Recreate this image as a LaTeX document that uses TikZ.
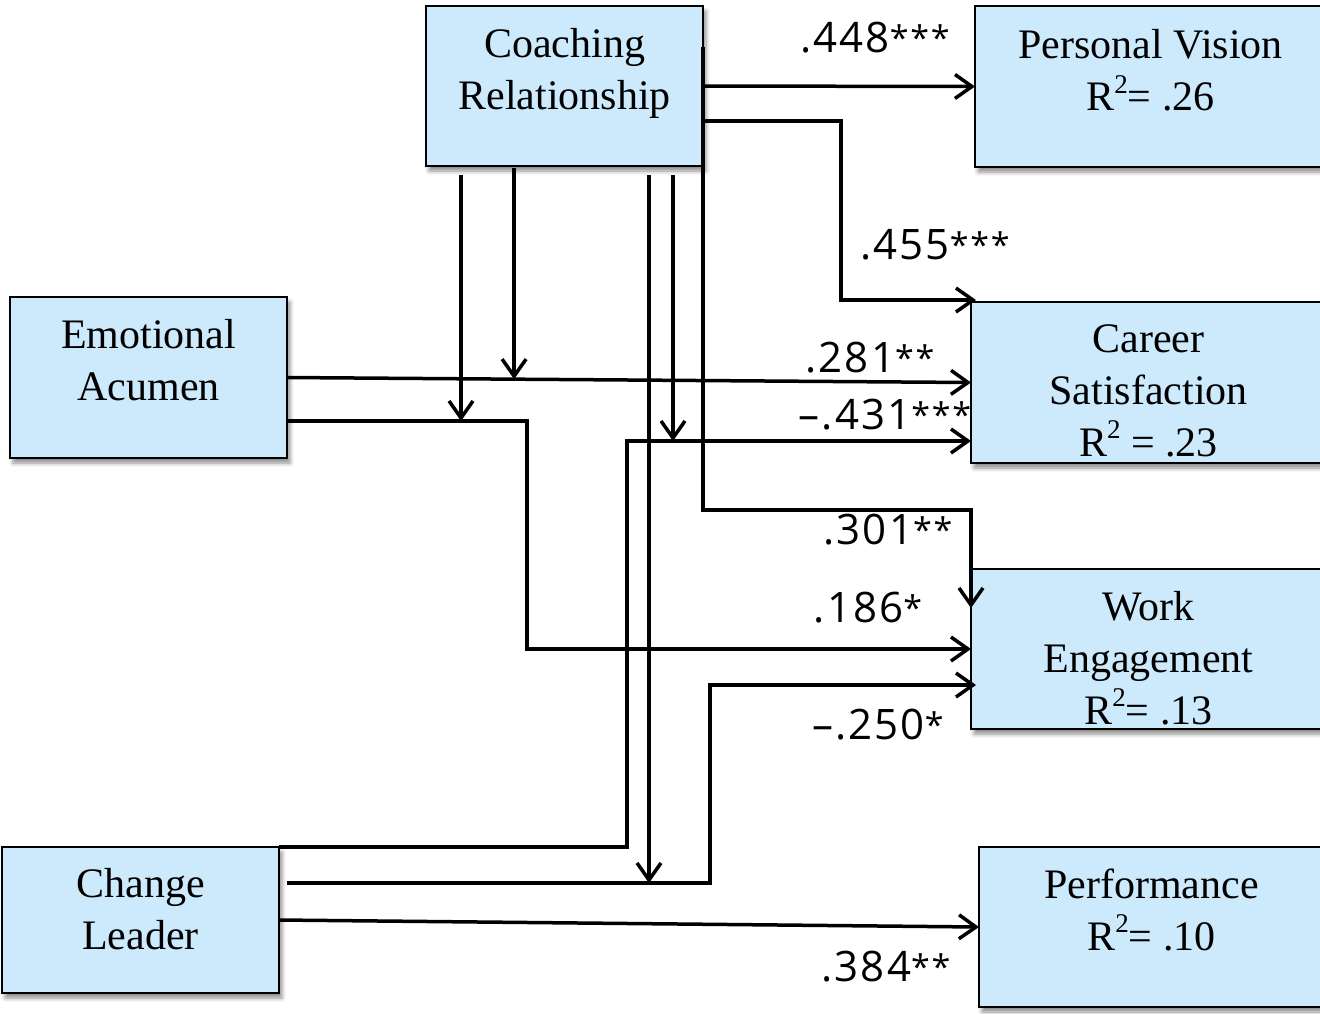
\documentclass[tikz,border=0pt]{standalone}
\usepackage{fontspec}
\setmainfont{Liberation Serif}
\newfontfamily\coeffont{Open Sans}[LetterSpace=5]
\usepackage{tikz}
\usetikzlibrary{arrows.meta}
\usetikzlibrary{calc,shadows.blur,positioning}

\definecolor{boxblue}{RGB}{204,234,252}
\newcommand{\rsq}{R\raisebox{0.42em}{\fontsize{27}{27}\selectfont 2}}
\newcommand{\stars}[1]{\raisebox{0.06em}{\fontsize{34}{34}\selectfont #1}}

\begin{document}
\begin{tikzpicture}[x=1pt, y=-1pt,
    box/.style={rectangle, draw=black, line width=1.5pt, fill=boxblue, inner sep=0pt, outer sep=0pt,
    blur shadow={shadow xshift=3pt, shadow yshift=-5pt, shadow blur radius=4pt, shadow opacity=45}},
    boxtext/.style={font=\fontsize{42}{52}\selectfont, align=center, inner sep=0pt},
    coef/.style={font=\coeffont\fontsize{42}{50}\selectfont, inner sep=0pt},
    link/.style={line width=3.5pt, -{Straight Barb[length=17pt,width=24pt]}},
    ]
    \clip (0,0) rectangle (1320,1013);

    % predictors
    \node (coach) [box, minimum width=277pt, minimum height=160pt] at (564.5,86) {};
    \node (emo) [box, minimum width=277pt, minimum height=161pt] at (148.5,377.5) {};
    \node (change) [box, minimum width=277pt, minimum height=146pt] at (140.5,920) {};

    % outcomes
    \node (vision) [box, minimum width=355pt, minimum height=161pt] at (1152.5,86.5) {};
    \node (career) [box, minimum width=359pt, minimum height=161pt] at (1150.5,382.5) {};
    \node (work) [box, minimum width=359pt, minimum height=160pt] at (1150.5,649) {};
    \node (perf) [box, minimum width=351pt, minimum height=160pt] at (1154.5,927) {};

    \node (coach-t) [boxtext] at ([yshift=13pt]coach.center) {Coaching\\Relationship};
    \node (emo-t) [boxtext] at ([yshift=17pt]emo.center) {Emotional\\Acumen};
    \node (change-t) [boxtext] at ([yshift=11pt]change.center) {Change\\Leader};
    \node (vision-t) [boxtext] at ([xshift=-2pt,yshift=16pt]vision.center) {Personal Vision\\\rsq= .26};
    \node (career-t) [boxtext] at ([xshift=-2pt,yshift=-8pt]career.center) {Career\\Satisfaction\\\rsq{} = .23};
    \node (work-t) [boxtext] at ([xshift=-2pt,yshift=-9pt]work.center) {Work\\Engagement\\\rsq= .13};
    \node (perf-t) [boxtext] at ([xshift=-3pt,yshift=17pt]perf.center) {Performance\\\rsq= .10};

    % moderation points
    \coordinate (m1) at ($(emo.east)!0.332!(career.west)$);
    \coordinate (m2) at (461,421);
    \coordinate (m3) at (673,441);
    \coordinate (m4) at (649,883);

    % paths
    \draw [link] (coach.east) -- (vision.west);
    \draw [link] ([yshift=-35pt]coach.east) -- ++(138,0) |- ([xshift=5pt,yshift=2pt]career.north west);
    \draw [link] ([yshift=-41pt]coach.north east) |- ([yshift=59pt]work.north west) -- ([yshift=-39pt]work.north west);
    \draw [link] (emo.east) -- (career.west);
    \draw [link] ([yshift=-43.5pt]emo.east) -- ++(240,0) |- (work.west);
    \draw [link] (change.north east) -- ++(348,0) |- ([yshift=-58.5pt]career.west);
    \draw [link] ([xshift=8pt,yshift=37pt]change.east) -- ++(423,0) |- ([xshift=5pt,yshift=-36pt]work.west);
    \draw [link] (change.east) -- (perf.west);

    % interactions
    \draw [link] ([yshift=-2pt]coach.south -| m1) -- (m1);
    \draw [link] ([yshift=-9pt]coach.south -| m2) -- (m2);
    \draw [link] ([yshift=-9pt]coach.south -| m3) -- (m3);
    \draw [link] ([yshift=-9pt]coach.south -| m4) -- (m4);

    % coefficients
    \node (b-vision) [coef] at (875,38) {.448\stars{***}};
    \node (b-career) [coef] at (935,245) {.455\stars{***}};
    \node (b-emo) [coef] at (870,358) {.281\stars{**}};
    \node (b-chg) [coef] at (885,415) {–.431\stars{***}};
    \node (b-work) [coef] at (888,530) {.301\stars{**}};
    \node (b-emo2) [coef] at (868,608) {.186\stars{*}};
    \node (b-chg2) [coef] at (878,725) {–.250\stars{*}};
    \node (b-perf) [coef] at (886,967) {.384\stars{**}};
\end{tikzpicture}
\end{document}
